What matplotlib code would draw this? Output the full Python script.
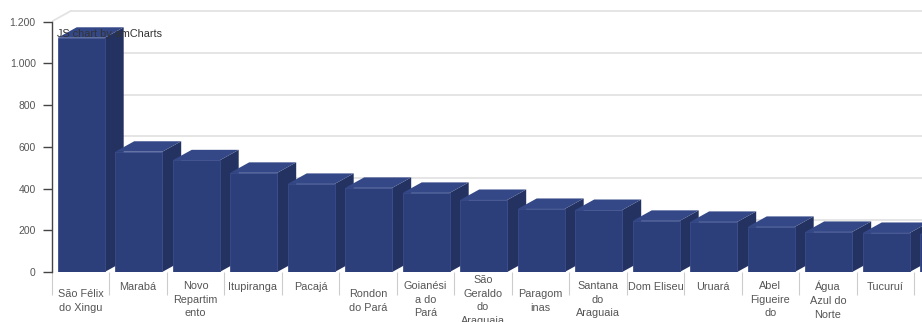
import numpy as np
import matplotlib
matplotlib.use('Agg')
import matplotlib.pyplot as plt
from matplotlib.patches import Polygon, Rectangle

plt.rcParams['font.family'] = ['Liberation Sans', 'DejaVu Sans']

# category names as wrapped in the chart
cities = ['São Félix\ndo Xingu', 'Marabá', 'Novo\nRepartim\nento', 'Itupiranga',
          'Pacajá', 'Rondon\ndo Pará', 'Goianési\na do\nPará', 'São\nGeraldo\ndo\nAraguaia',
          'Paragom\ninas', 'Santana\ndo\nAraguaia', 'Dom Eliseu', 'Uruará',
          'Abel\nFigueire\ndo', 'Água\nAzul do\nNorte', 'Tucuruí', '']
values = [1122, 576, 535, 475, 422, 403, 379, 345, 302, 297, 245, 240, 216, 192, 187, 182]
yticks = [0, 200, 400, 600, 800, 1000, 1200]
ytick_labels = ['0', '200', '400', '600', '800', '1.000', '1.200']

W, H = 922, 322
fig = plt.figure(figsize=(W / 100, H / 100), dpi=100)
fig.patch.set_facecolor('white')

# plot area in pixels
left_px, base_px = 51.7, 272
cat_px = 57.5
ax = fig.add_axes([left_px / W, 1 - base_px / H, 1 - left_px / W, base_px / H])
ax.set_facecolor('none')
ymax = 1303
xr = (W - left_px) / cat_px

px_per_unit = base_px / ymax
ddx = 19 / cat_px          # 3d depth in data units
ddy = 10.5 / px_per_unit

# back-wall grid
for t in yticks[1:]:
    ax.plot([ddx, xr], [t + ddy, t + ddy], color='#e3e3e3', lw=1.3, zorder=0)
ax.plot([0, ddx], [yticks[-1], yticks[-1] + ddy], color='#e3e3e3', lw=1.3, zorder=0)
ax.plot([0, xr], [0, 0], color='#e6e6e6', lw=0.8, zorder=0)

front_c, top_c, side_c = '#2c3f7b', '#344887', '#243261'
bw = 47 / cat_px
off = 6 / cat_px
for i, v in enumerate(values):
    x0 = i + off
    x1 = x0 + bw
    side = Polygon([(x1, 0), (x1 + ddx, ddy), (x1 + ddx, v + ddy), (x1, v)],
                   closed=True, fc=side_c, ec='none', zorder=2 + i * 0.01)
    top = Polygon([(x0, v), (x1, v), (x1 + ddx, v + ddy), (x0 + ddx, v + ddy)],
                  closed=True, fc=top_c, ec='none', zorder=2 + i * 0.01)
    front = Rectangle((x0, 0), bw, v, fc=front_c, ec='#3a4c8c', lw=0.6,
                      zorder=2 + i * 0.01 + 0.005)
    for p in (side, top, front):
        ax.add_patch(p)

# axes styling
for s in ['top', 'right', 'bottom']:
    ax.spines[s].set_visible(False)
ax.spines['left'].set_bounds(0, 1200)
ax.spines['left'].set_color('#444444')
ax.spines['left'].set_linewidth(1.0)
ax.set_yticks(yticks)
ax.set_yticklabels(ytick_labels)
ax.tick_params(axis='y', length=6.5, width=1.0, color='#444444', pad=5,
               labelsize=7.5, labelcolor='#555555')

ax.set_xticks(np.arange(len(values) + 1))
ax.set_xticklabels([])
ax.tick_params(axis='x', length=16.5, width=0.8, color='#cccccc')
ax.set_xlim(0, xr)
ax.set_ylim(0, ymax)

# category labels
top_by_lines = {1: 282, 2: 289, 3: 281, 4: 275}
for i, name in enumerate(cities):
    if not name:
        continue
    n = name.count('\n') + 1
    ypx = top_by_lines[n]
    ax.text(i + 0.5, -(ypx - base_px) / px_per_unit, name, ha='center', va='top',
            fontsize=7.8, color='#555555', linespacing=1.45, clip_on=False)

ax.text((57 - left_px) / cat_px, (base_px - 34) / px_per_unit,
        'JS chart by amCharts', fontsize=7.8, color='#333333', va='center',
        ha='left', zorder=10)

fig.savefig('out.png', dpi=100)
